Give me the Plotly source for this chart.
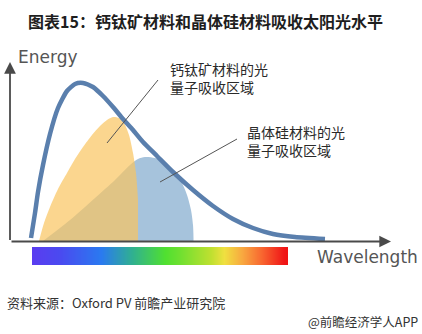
import plotly.graph_objects as go

# ---- data (arbitrary units) ----
sun_wl = [21, 25, 28, 33, 40, 48, 57, 65, 73, 83, 93, 103, 113, 123, 133, 147, 163, 183, 203, 223, 243, 263, 285, 315]
sun_energy = [3, 28, 49, 76, 107, 133, 150, 157, 158, 154, 145, 134, 122, 111, 99, 85, 69, 51, 35, 22, 13, 7, 4, 2]

perov_wl = [29, 34, 40, 48, 57, 65, 73, 82, 90, 97, 103, 109, 114, 119, 123, 126, 128]
perov_energy = [0, 18, 34, 52, 68, 82, 94, 106, 115, 121, 124, 123, 118, 106, 88, 68, 41]

si_wl = [33, 60, 85, 105, 120, 128, 135, 145, 155, 165, 172, 177, 181, 183, 183.5]
si_energy = [0, 21, 43, 61, 76, 82, 84, 83, 79, 69, 58, 46, 31, 16, 3]

spectrum_pos = [0.0, 0.11, 0.27, 0.39, 0.52, 0.58, 0.70, 0.75, 0.82, 0.895, 0.98, 1.0]
spectrum_colors = ["#5a3cf0", "#4a4af0", "#2a7af0", "#30b090", "#50e030", "#70e030",
                   "#c0e030", "#f0e040", "#f8a840", "#f86830", "#f01818", "#f01010"]

title = "<b>图表15：钙钛矿材料和晶体硅材料吸收太阳光水平</b>"
label_perov = "钙钛矿材料的光<br>量子吸收区域"
label_si = "晶体硅材料的光<br>量子吸收区域"
source = "资料来源：Oxford PV 前瞻产业研究院"
brand = "@前瞻经济学人APP"

W, H = 422, 334
CJK = "Noto Sans CJK SC"

fig = go.Figure()

fig.add_trace(go.Scatter(x=si_wl, y=si_energy, fill="tozeroy", mode="lines",
                         line=dict(width=0, color="#a6c3dc", shape="spline", smoothing=0.8),
                         fillcolor="#a6c3dc", hoverinfo="skip", showlegend=False))
fig.add_trace(go.Scatter(x=perov_wl, y=perov_energy, fill="tozeroy", mode="lines",
                         line=dict(width=0, color="rgba(249,196,96,0.7)", shape="spline", smoothing=0.8),
                         fillcolor="rgba(249,196,96,0.7)",
                         hoverinfo="skip", showlegend=False))
fig.add_trace(go.Scatter(x=sun_wl, y=sun_energy, mode="lines",
                         line=dict(width=4.5, color="#5a7fad", shape="spline", smoothing=0.6),
                         hoverinfo="skip", showlegend=False))

# rainbow spectrum bar
fig.add_trace(go.Heatmap(z=[spectrum_pos, spectrum_pos], x=spectrum_pos, y=[0, 1],
                         zmin=0, zmax=1, zsmooth="best",
                         colorscale=[[p, c] for p, c in zip(spectrum_pos, spectrum_colors)],
                         showscale=False, hoverinfo="skip", xaxis="x2", yaxis="y2"))

axis_color = "#4a4a4a"
# axes arrows (data coords: x = px-10, y = 241-py)
fig.add_annotation(x=381, y=-0.5, ax=0, ay=-0.5, xref="x", yref="y", axref="x", ayref="y",
                   showarrow=True, arrowhead=2, arrowsize=1.3, arrowwidth=1.8,
                   arrowcolor=axis_color, text="")
fig.add_annotation(x=0, y=179, ax=0, ay=-0.5, xref="x", yref="y", axref="x", ayref="y",
                   showarrow=True, arrowhead=2, arrowsize=1.3, arrowwidth=1.8,
                   arrowcolor=axis_color, text="")

# leader lines
fig.add_shape(type="line", x0=97, y0=98, x1=148, y1=161, xref="x", yref="y",
              line=dict(color="#555555", width=1))
fig.add_shape(type="line", x0=150, y0=59, x1=227, y1=102, xref="x", yref="y",
              line=dict(color="#555555", width=1))

def txt(x, y, s, size, color="#333333", family=CJK, xanchor="left", align="left"):
    fig.add_annotation(x=x / W, y=1 - y / H, xref="paper", yref="paper", text=s,
                       showarrow=False, xanchor=xanchor, yanchor="middle", align=align,
                       font=dict(size=size, color=color, family=family))

txt(26, 21, title, 16, "#1e1e1e")
txt(168, 78, label_perov, 14, "#2a2a2a")
txt(245, 141.5, label_si, 14, "#2a2a2a")
txt(16, 57, "Energy", 17, "#555555", "DejaVu Sans")
txt(420, 257, "Wavelength", 17, "#555555", "DejaVu Sans", xanchor="right")
txt(5, 302, source, 13, "#333333")
txt(420, 321, brand, 12.5, "#333333", xanchor="right")

fig.update_layout(
    width=W, height=H, margin=dict(l=0, r=0, t=0, b=0),
    paper_bgcolor="white", plot_bgcolor="rgba(0,0,0,0)",
    xaxis=dict(domain=[0, 1], range=[-10, W - 10], visible=False, fixedrange=True),
    yaxis=dict(domain=[0, 1], range=[241 - H, 241], visible=False, fixedrange=True),
    xaxis2=dict(domain=[32 / W, 288 / W], range=[0, 1], visible=False, anchor="y2"),
    yaxis2=dict(domain=[1 - 265 / H, 1 - 247 / H], range=[0, 1], visible=False, anchor="x2"),
)

fig.write_html("out.html", config={"displayModeBar": False})
